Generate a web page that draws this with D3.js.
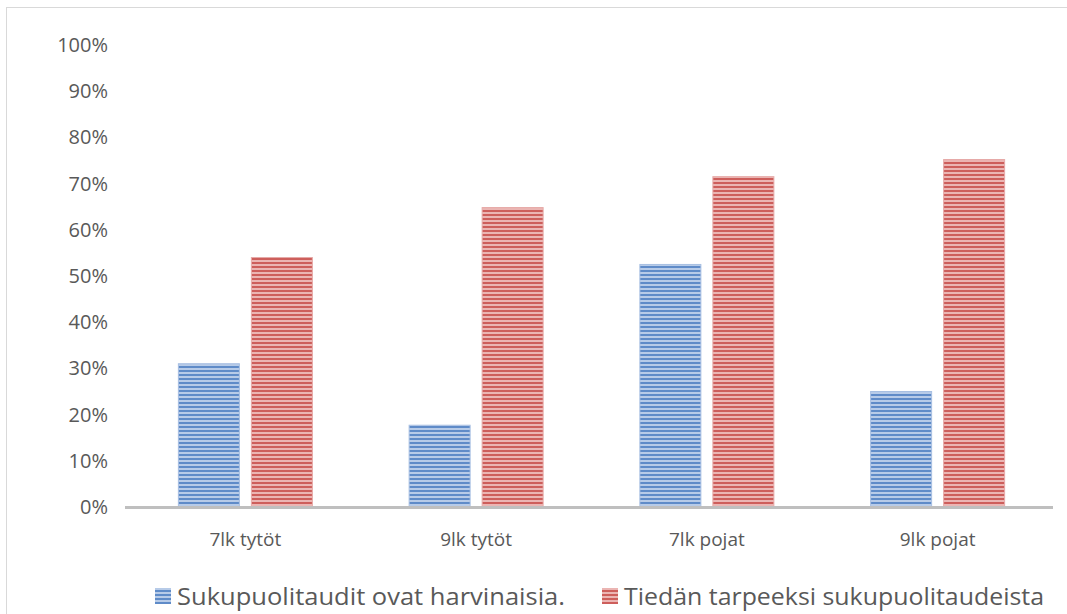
<!DOCTYPE html>
<html>
<head>
<meta charset="utf-8">
<script src="https://cdn.jsdelivr.net/npm/d3@7"></script>
<style>
  body { margin: 0; background: #fff; }
  text { font-family: "Open Sans", Lato, sans-serif; fill: #595959; }
</style>
</head>
<body>
<svg id="chart" width="1067" height="614"></svg>
<script>
"use strict";

// data
var categories = ["7lk tytöt", "9lk tytöt", "7lk pojat", "9lk pojat"];
var seriesNames = ["Sukupuolitaudit ovat harvinaisia.", "Tiedän tarpeeksi sukupuolitaudeista"];
var rareValues = [0.31, 0.177, 0.525, 0.25];
var enoughValues = [0.54, 0.648, 0.715, 0.752];
var yTicks = [0, 0.1, 0.2, 0.3, 0.4, 0.5, 0.6, 0.7, 0.8, 0.9, 1.0];

var svg = d3.select("#chart");
var width = 1067, height = 614;

// outer frame
svg.append("rect")
    .attr("x", 6.5).attr("y", 7.5)
    .attr("width", width + 10).attr("height", height + 10)
    .attr("fill", "none")
    .attr("stroke", "#d9d9d9")
    .attr("stroke-width", 1);

// stripe patterns
var defs = svg.append("defs");
function stripe(id, light, dark) {
    var p = defs.append("pattern")
        .attr("id", id)
        .attr("patternUnits", "userSpaceOnUse")
        .attr("width", 8).attr("height", 4);
    p.append("rect").attr("width", 8).attr("height", 4).attr("fill", light);
    p.append("rect").attr("y", 2).attr("width", 8).attr("height", 2).attr("fill", dark);
}
stripe("stripeBlue", "#b7cbe8", "#5f8bc8");
stripe("stripeRed", "#ebb5b3", "#cd5e5b");

var margin = { left: 130, right: 14, top: 45, bottom: 107 };
var x = d3.scaleBand()
    .domain(categories)
    .range([margin.left, width - margin.right]);
var y = d3.scaleLinear()
    .domain([0, 1])
    .range([height - margin.bottom, margin.top]);

// y axis labels
svg.append("g")
    .selectAll("text")
    .data(yTicks)
    .enter()
    .append("text")
    .attr("x", 108)
    .attr("y", function(d) { return y(d); })
    .attr("dy", "0.35em")
    .attr("text-anchor", "end")
    .style("font-size", "20px")
    .text(d3.format(".0%"));

// bars
var barW = 61, gap = 12;
var series = [
    { values: rareValues, fill: "url(#stripeBlue)", edge: "#a7bfe2", offset: -(barW + gap) / 2 },
    { values: enoughValues, fill: "url(#stripeRed)", edge: "#e6a9a7", offset: (barW + gap) / 2 }
];
series.forEach(function(s) {
    svg.append("g")
        .selectAll("rect")
        .data(categories)
        .enter()
        .append("rect")
        .attr("x", function(d) { return x(d) + x.bandwidth() / 2 + s.offset - barW / 2; })
        .attr("y", function(d, i) { return y(s.values[i]); })
        .attr("width", barW)
        .attr("height", function(d, i) { return y(0) - y(s.values[i]); })
        .attr("fill", s.fill)
        .attr("stroke", s.edge)
        .attr("stroke-width", 1);
});

// x axis line
svg.append("line")
    .attr("x1", margin.left - 5).attr("x2", width - margin.right)
    .attr("y1", y(0) + 0.5).attr("y2", y(0) + 0.5)
    .attr("stroke", "#bfbfbf")
    .attr("stroke-width", 3);

// category labels
svg.append("g")
    .selectAll("text")
    .data(categories)
    .enter()
    .append("text")
    .attr("x", function(d) { return x(d) + x.bandwidth() / 2; })
    .attr("y", 546)
    .attr("text-anchor", "middle")
    .style("font-size", "19px")
    .text(function(d) { return d; });

// legend
var legendX = [155, 602];
var legendLen = [388, 420];
var legendFill = ["url(#stripeBlue)", "url(#stripeRed)"];
var legend = svg.append("g")
    .selectAll("g")
    .data(seriesNames)
    .enter()
    .append("g")
    .attr("transform", function(d, i) { return "translate(" + legendX[i] + ",588)"; });
legend.append("rect")
    .attr("width", 16).attr("height", 16)
    .attr("fill", function(d, i) { return legendFill[i]; });
legend.append("text")
    .attr("x", 22)
    .attr("y", 8)
    .attr("dy", "0.36em")
    .attr("textLength", function(d, i) { return legendLen[i]; })
    .attr("lengthAdjust", "spacingAndGlyphs")
    .style("font-size", "24px")
    .text(function(d) { return d; });
</script>
</body>
</html>
